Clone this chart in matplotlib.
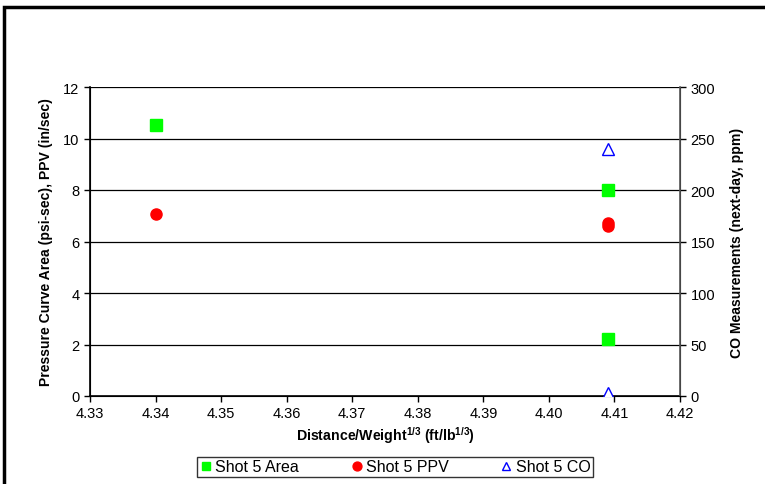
import matplotlib
matplotlib.use("Agg")
import matplotlib.pyplot as plt
from matplotlib.patches import Rectangle

plt.rcParams['font.family'] = ['Liberation Sans', 'DejaVu Sans']
plt.rcParams['mathtext.fontset'] = 'custom'
plt.rcParams['mathtext.rm'] = 'Liberation Sans'
plt.rcParams['mathtext.bf'] = 'Liberation Sans:bold'

# data
area_x = [4.34, 4.409, 4.409]
area_y = [10.52, 8.0, 2.2]
ppv_x = [4.34, 4.409, 4.409]
ppv_y = [7.07, 6.6, 6.72]
co_x = [4.409, 4.409]
co_y = [240, 3]

xticks = [4.33, 4.34, 4.35, 4.36, 4.37, 4.38, 4.39, 4.40, 4.41, 4.42]
left_ticks = [0, 2, 4, 6, 8, 10, 12]
right_ticks = [0, 50, 100, 150, 200, 250, 300]

fig = plt.figure(figsize=(7.65, 4.85), dpi=100)
ax = fig.add_axes([90/765, 1 - 397/485, 590/765, 309/485])
ax2 = ax.twinx()

# outer chart border
fig.patches.append(Rectangle((4/765, -0.1), 1.2, 1 - 8/485 + 0.1, transform=fig.transFigure,
                             fill=False, edgecolor='black', linewidth=2.5))

for y in left_ticks[1:]:
    ax.axhline(y, color='black', linewidth=0.9, zorder=1)

ax.plot(area_x, area_y, 's', color='#00ff00', markersize=8, label='Shot 5 Area', zorder=3)
ax.plot(ppv_x, ppv_y, 'o', color='#ff0000', markersize=8, label='Shot 5 PPV', zorder=3)
ax2.plot(co_x, co_y, '^', markerfacecolor='white', markeredgecolor='#0000ff',
         markersize=8, markeredgewidth=1, label='Shot 5 CO', zorder=3)

ax.set_xlim(4.33, 4.42)
ax.set_ylim(0, 12)
ax2.set_ylim(0, 300)
ax.set_xticks(xticks)
ax.set_xticklabels([f'{v:.2f}' for v in xticks])
ax.set_yticks(left_ticks)
ax2.set_yticks(right_ticks)

for a in (ax, ax2):
    a.spines['top'].set_visible(False)
    a.tick_params(labelsize=10.5, length=4, width=1, direction='out')
ax.spines['left'].set_linewidth(1.2)
ax.spines['bottom'].set_linewidth(1.2)
ax2.spines['right'].set_linewidth(1.2)
ax2.spines['right'].set_color('#555555')

ax.set_xlabel(r'Distance/Weight$^{\mathbf{1/3}}$ (ft/lb$^{\mathbf{1/3}}$)',
              fontsize=10.2, fontweight='bold', labelpad=3)
ax.set_ylabel('Pressure Curve Area (psi-sec), PPV (in/sec)', fontsize=10.1,
              fontweight='bold', labelpad=7)
ax2.set_ylabel('CO Measurements (next-day, ppm)', fontsize=10.1, fontweight='bold',
               labelpad=11)

h1, l1 = ax.get_legend_handles_labels()
h2, l2 = ax2.get_legend_handles_labels()
leg = fig.legend(h1 + h2, l1 + l2, loc='center', bbox_to_anchor=(395/765, 1 - 468/485),
                 ncol=3, fontsize=11.5, frameon=True, fancybox=False, handlelength=0.8,
                 handletextpad=0.2, columnspacing=3.2, borderpad=0.15, markerscale=0.8,
                 borderaxespad=0)
leg.get_frame().set_edgecolor('black')
leg.get_frame().set_linewidth(1)

fig.savefig('out.png', dpi=100)
